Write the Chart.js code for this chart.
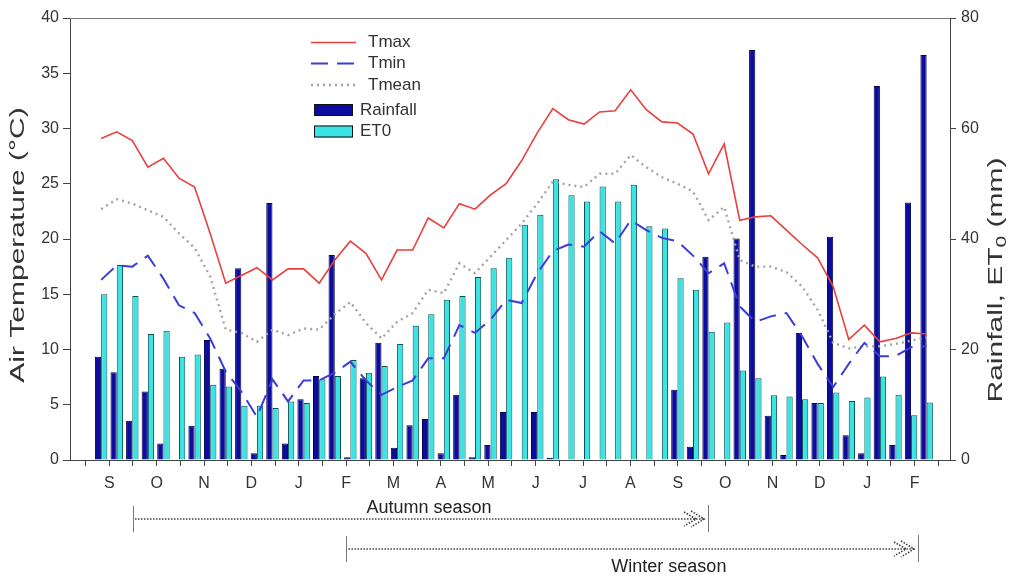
<!DOCTYPE html>
<html>
<head>
<meta charset="utf-8">
<title>Air temperature, rainfall and ET0</title>
<script src="https://cdn.jsdelivr.net/npm/chart.js"></script>
<style>
	html, body { margin: 0; padding: 0; background: #fff; }
	#wrap { width: 1011px; height: 577px; position: relative; }
</style>
</head>
<body>
<div id="wrap"><canvas id="clima"></canvas></div>
<script>
	// one value per dekad (10-day period), September .. February of the following year
	var months = ['S','O','N','D','J','F','M','A','M','J','J','A','S','O','N','D','J','F'];

	var tmax = [29.1,29.7,28.9,26.5,27.3,25.5,24.7,20.5,16.0,16.7, 17.4,16.3,17.3,17.3,16.0,18.1,19.8,18.7,16.3,19.0,
		19.0,21.9,21.0,23.2,22.7,24.0,25.0,27.1,29.6,31.8, 30.8,30.4,31.5,31.6,33.5,31.7,30.6,30.5,29.5,25.9,
		28.6,21.7,22.0,22.1,20.8,19.5,18.3,15.7,10.9,12.2, 10.7,11.0,11.5,11.4];
	var tmin = [16.3,17.6,17.5,18.5,16.4,14.0,13.3,11.0,8.0,6.2, 3.9,7.3,5.3,7.2,7.2,7.9,8.9,7.2,5.9,6.6,
		7.2,9.2,9.2,12.2,11.5,12.7,14.5,14.2,16.9,18.9, 19.5,19.3,20.7,19.6,21.7,20.8,20.1,19.8,18.5,16.9,
		17.8,13.9,12.5,13.0,13.3,11.2,8.7,6.6,8.7,10.6, 9.4,9.4,10.2,10.3];
	var tmean = [22.7,23.6,23.2,22.6,22.0,20.5,19.2,16.6,11.8,11.5, 10.7,11.8,11.3,11.9,11.8,13.2,14.3,12.4,11.0,12.5,
		13.3,15.4,15.1,17.8,16.9,18.4,19.9,21.4,23.2,25.2, 24.9,24.7,25.9,25.9,27.6,26.5,25.6,25.0,24.3,21.7,
		22.9,18.1,17.5,17.5,17.0,15.7,13.6,10.6,10.1,10.3, 10.3,10.5,10.8,11.1];
	var rainfall = [18.7,15.9,7.1,12.4,3.0,0,6.2,21.7,16.5,34.7, 1.2,46.5,3.0,11.0,15.2,37.1,0.5,14.8,21.2,2.2,
		6.3,7.4,1.2,11.8,0.5,2.7,8.7,0,8.7,0.4, 0,0,0,0,0,0,0,12.7,2.4,36.8,
		0,40.1,74.2,8.0,0.9,23.0,10.3,40.4,4.5,1.2, 67.7,2.7,46.6,73.3];
	var et0 = [30.0,35.3,29.7,22.8,23.4,18.7,19.1,13.6,13.3,9.8, 9.8,9.4,10.6,10.3,14.6,15.2,18.1,15.8,17.0,21.0,
		24.3,26.4,29.0,29.7,33.1,34.7,36.6,42.6,44.4,50.8, 47.9,46.8,49.5,46.8,49.8,42.3,41.9,32.9,30.8,23.2,
		24.9,16.2,14.8,11.7,11.5,11.0,10.3,12.2,10.7,11.3, 15.1,11.8,8.1,10.4];

	// growing seasons (in dekads)
	var seasonNames = ['Autumn season', 'Winter season'];
	var seasonStart = [2.05, 15.75];
	var seasonEnd = [38.97, 52.45];
	var seasonLabelAt = [21.05, 36.45];

	var fuente = '"Liberation Sans", Arial, sans-serif';
	Chart.defaults.font.family = fuente;

	// half-month ticks, month letters on the middle ones
	var halfMonth = 365 / 24 / 10;
	var tickPos = [];
	for (var k = 0; k <= 36; k++) tickPos.push(-1 + k * halfMonth);

	function puntos(arr) { return arr.map(function(v, i) { return {x: i, y: v}; }); }

	var leyenda = {
		id: 'leyenda',
		afterDatasetsDraw: function(chart) {
			var ctx = chart.ctx;
			var ds = chart.data.datasets;
			ctx.save();
			ctx.font = '17px ' + fuente;
			ctx.textBaseline = 'middle';
			var filas = [[2, 42.5], [3, 63.5], [4, 85]];
			filas.forEach(function(f) {
				var d = ds[f[0]];
				ctx.strokeStyle = d.borderColor;
				ctx.lineWidth = d.borderWidth;
				ctx.setLineDash(d.borderDash || []);
				ctx.beginPath(); ctx.moveTo(311, f[1]); ctx.lineTo(356, f[1]); ctx.stroke();
				ctx.fillStyle = '#333';
				ctx.fillText(d.label, 368, f[1]);
			});
			ctx.setLineDash([]);
			var cajas = [[0, 110], [1, 131.5]];
			cajas.forEach(function(c) {
				var d = ds[c[0]];
				ctx.fillStyle = d.backgroundColor;
				ctx.fillRect(314, c[1] - 6, 39, 12);
				ctx.strokeStyle = '#111';
				ctx.lineWidth = 1;
				ctx.strokeRect(314.5, c[1] - 5.5, 38, 11);
				ctx.fillStyle = '#333';
				ctx.fillText(d.label, 360, c[1]);
			});
			ctx.restore();
		}
	};

	// axis title, bottom-to-top, stretched along the text like in the original figure
	function tituloEje(ctx, cx, cy, partes) {
		var f1 = '20px ' + fuente, f2 = '14px ' + fuente;
		ctx.save();
		ctx.translate(cx, cy);
		ctx.rotate(-Math.PI / 2);
		ctx.scale(1.5, 1);
		ctx.fillStyle = '#333';
		ctx.textBaseline = 'middle';
		var total = 0;
		partes.forEach(function(p) { ctx.font = p[1] ? f2 : f1; p.w = ctx.measureText(p[0]).width; total += p.w; });
		var x = -total / 2;
		partes.forEach(function(p) {
			ctx.font = p[1] ? f2 : f1;
			ctx.fillText(p[0], x, p[1] ? 6 : 0);
			x += p.w;
		});
		ctx.restore();
	}

	var extras = {
		id: 'extras',
		afterDraw: function(chart) {
			var ctx = chart.ctx;
			var a = chart.chartArea;
			var sx = chart.scales.x;
			ctx.save();
			// top frame line
			ctx.strokeStyle = '#777';
			ctx.lineWidth = 1;
			ctx.beginPath(); ctx.moveTo(a.left, a.top + 0.5); ctx.lineTo(a.right, a.top + 0.5); ctx.stroke();
			ctx.restore();

			tituloEje(ctx, 18, 245, [['Air Temperature (°C)', false]]);
			tituloEje(ctx, 996, 280, [['Rainfall, ET', false], ['0', true], [' (mm)', false]]);

			// season arrows below the axis
			var filaY = [519, 549], textoY = [508, 567];
			ctx.save();
			for (var i = 0; i < seasonNames.length; i++) {
				var xs = sx.getPixelForValue(seasonStart[i]);
				var xe = sx.getPixelForValue(seasonEnd[i]);
				var y = filaY[i];
				ctx.strokeStyle = '#777';
				ctx.lineWidth = 1;
				ctx.setLineDash([]);
				ctx.beginPath();
				ctx.moveTo(Math.round(xs) + 0.5, y - 13); ctx.lineTo(Math.round(xs) + 0.5, y + 13);
				ctx.moveTo(Math.round(xe) + 0.5, y - 14); ctx.lineTo(Math.round(xe) + 0.5, y + 13);
				ctx.stroke();
				ctx.strokeStyle = '#333';
				ctx.lineWidth = 1.6;
				ctx.setLineDash([1.4, 1.6]);
				ctx.beginPath(); ctx.moveTo(xs + 2, y); ctx.lineTo(xe - 3, y); ctx.stroke();
				ctx.beginPath();
				ctx.moveTo(xe - 17, y - 8); ctx.lineTo(xe - 4, y); ctx.lineTo(xe - 17, y + 8);
				ctx.moveTo(xe - 24, y - 7); ctx.lineTo(xe - 12, y); ctx.lineTo(xe - 24, y + 7);
				ctx.stroke();
				ctx.setLineDash([]);
				ctx.fillStyle = '#222';
				ctx.font = '18px ' + fuente;
				ctx.textAlign = 'center';
				ctx.textBaseline = 'middle';
				ctx.fillText(seasonNames[i], sx.getPixelForValue(seasonLabelAt[i]), textoY[i]);
			}
			ctx.restore();
		}
	};

	var ctx1 = document.getElementById('clima').getContext('2d');
	var grafico = new Chart(ctx1, {
		type: 'bar',
		data: {
			datasets: [{
				type: 'bar',
				label: 'Rainfall',
				data: puntos(rainfall),
				yAxisID: 'y2',
				backgroundColor: '#0c0ca0',
				borderColor: '#000045',
				borderWidth: 1,
				categoryPercentage: 0.8,
				barPercentage: 1.0,
				order: 2
			}, {
				type: 'bar',
				label: 'ET0',
				data: puntos(et0),
				yAxisID: 'y2',
				backgroundColor: '#38e4e4',
				borderColor: '#0d5050',
				borderWidth: 1,
				categoryPercentage: 0.8,
				barPercentage: 1.0,
				order: 2
			}, {
				type: 'line',
				label: 'Tmax',
				data: puntos(tmax),
				yAxisID: 'y',
				borderColor: '#e8403c',
				borderWidth: 1.6,
				pointRadius: 0,
				fill: false,
				tension: 0,
				order: 0
			}, {
				type: 'line',
				label: 'Tmin',
				data: puntos(tmin),
				yAxisID: 'y',
				borderColor: '#3c3cd6',
				borderWidth: 2,
				borderDash: [17, 9],
				pointRadius: 0,
				fill: false,
				tension: 0,
				order: 0
			}, {
				type: 'line',
				label: 'Tmean',
				data: puntos(tmean),
				yAxisID: 'y',
				borderColor: '#a4a4a4',
				borderWidth: 2.4,
				borderDash: [2, 4],
				pointRadius: 0,
				fill: false,
				tension: 0,
				order: 0
			}]
		},
		options: {
			responsive: true,
			maintainAspectRatio: false,
			animation: false,
			layout: { padding: { top: 18, left: 0, right: 0, bottom: 0 } },
			plugins: { legend: { display: false }, tooltip: { enabled: false } },
			scales: {
				x: {
					type: 'linear',
					min: -2,
					max: 54.5,
					offset: false,
					grid: { drawOnChartArea: false, offset: false, tickLength: 6, color: '#444' },
					border: { color: '#444' },
					afterBuildTicks: function(s) { s.ticks = tickPos.map(function(v) { return {value: v}; }); },
					ticks: {
						autoSkip: false, maxRotation: 0, padding: 8, color: '#333', font: { size: 16 },
						callback: function(v, i) { return i % 2 === 1 ? months[(i - 1) / 2] : ''; }
					},
					afterFit: function(s) { s.height = 117; }
				},
				y: {
					type: 'linear',
					position: 'left',
					min: 0, max: 40,
					grid: { drawOnChartArea: false, tickLength: 7, color: '#444' },
					border: { color: '#444' },
					ticks: { stepSize: 5, padding: 4, color: '#333', font: { size: 16 } },
					afterFit: function(s) { s.width = 70; }
				},
				y2: {
					type: 'linear',
					position: 'right',
					min: 0, max: 80,
					grid: { drawOnChartArea: false, tickLength: 6, color: '#444' },
					border: { color: '#444' },
					ticks: { stepSize: 20, padding: 5, color: '#333', font: { size: 16 } },
					afterFit: function(s) { s.width = 61; }
				}
			}
		},
		plugins: [leyenda, extras]
	});
</script>
</body>
</html>
